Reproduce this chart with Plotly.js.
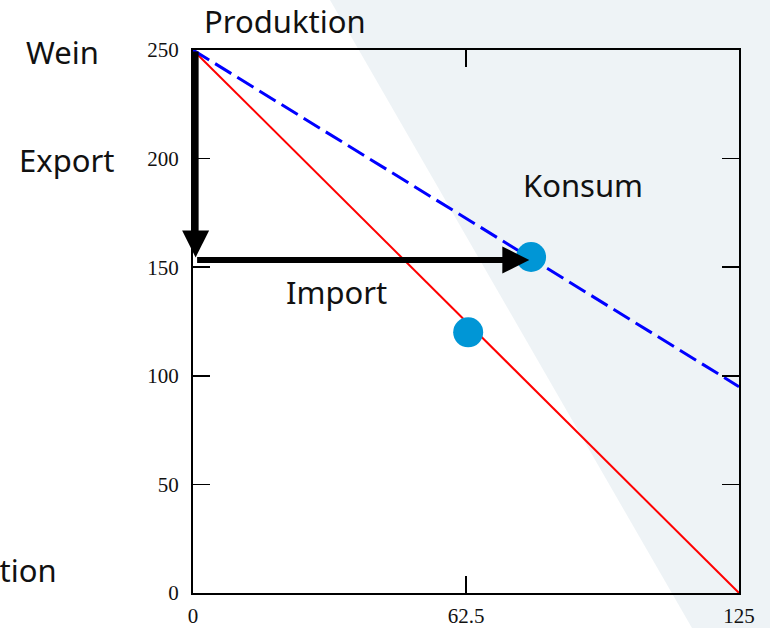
<!DOCTYPE html>
<html>
<head>
<meta charset="utf-8">
<script src="https://cdn.plot.ly/plotly-3.0.1.min.js"></script>
<style>html,body{margin:0;padding:0;background:#fff;}#chart{width:770px;height:628px;}</style>
</head>
<body>
<div id="chart"></div>
<script>
// ---- data ----
const xTicks = [0, 62.5, 125];
const xTickText = ['0', '62.5', '125'];
const yTicks = [0, 50, 100, 150, 200, 250];
const prodX = [0, 125];          // production possibility line
const prodY = [250, 0];
const consX = [0, 125];          // consumption possibility line (with trade)
const consY = [250, 95];
const prodPointX = [63];
const prodPointY = [120];
const consPointX = [77.4];
const consPointY = [154.7];
const exportFrom = [0.6, 250];
const exportTo = [0.6, 154.5];
const importFrom = [0.6, 153.3];
const importTo = [77, 153.3];
const labels = ['Produktion', 'Wein', 'Export', 'Konsum', 'Import', 'Produktion'];

// ---- layout helpers (pixel -> paper) ----
const L = 193, R = 739, T = 50, B = 593;
const px = v => (v - L) / (R - L);
const py = v => (B - v) / (B - T);

const traces = [
  {x: prodX, y: prodY, mode: 'lines', line: {color: '#ff0000', width: 2}, hoverinfo: 'skip'},
  {x: consX, y: consY, mode: 'lines', line: {color: '#0000ff', width: 3, dash: '19px,7px'}, hoverinfo: 'skip'},
  {x: prodPointX, y: prodPointY, mode: 'markers', marker: {size: 30, color: '#0096d6'}},
  {x: consPointX, y: consPointY, mode: 'markers', marker: {size: 30, color: '#0096d6'}}
];

const txtFont = {family: 'Noto Sans, Open Sans, sans-serif', size: 31, color: '#111'};
function label(text, xpx, ypx, anchor) {
  return {text: text, xref: 'paper', yref: 'paper', x: px(xpx), y: py(ypx),
    xanchor: anchor || 'center', yanchor: 'middle', showarrow: false, font: txtFont};
}

const tickFont = {family: 'Liberation Serif, serif', size: 21, color: '#111'};

const layout = {
  width: 770, height: 628,
  margin: {l: L, r: 770 - R, t: T, b: 628 - B, pad: 0},
  paper_bgcolor: '#ffffff',
  plot_bgcolor: 'rgba(0,0,0,0)',
  showlegend: false,
  xaxis: {
    range: [0, 125], tickvals: xTicks, ticktext: xTickText,
    ticks: 'inside', ticklen: 17, tickwidth: 1.5, tickcolor: '#000',
    showline: true, linecolor: '#000', linewidth: 2, mirror: 'allticks',
    showgrid: false, zeroline: false,
    tickfont: tickFont,
    ticklabelstandoff: 3
  },
  yaxis: {
    range: [0, 250], tickvals: yTicks,
    ticks: 'inside', ticklen: 17, tickwidth: 1.5, tickcolor: '#000',
    showline: true, linecolor: '#000', linewidth: 2, mirror: 'allticks',
    showgrid: false, zeroline: false,
    tickfont: tickFont,
    ticklabelstandoff: 8
  },
  shapes: [{
    type: 'path', xref: 'paper', yref: 'paper', layer: 'below',
    path: 'M ' + px(330) + ' ' + py(0) + ' L ' + px(692) + ' ' + py(628) +
          ' L ' + px(775) + ' ' + py(628) + ' L ' + px(775) + ' ' + py(0) + ' Z',
    fillcolor: '#eef3f6', line: {width: 0}
  }],
  annotations: [
    label(labels[0], 285, 21),
    label(labels[1], 62, 52),
    label(labels[2], 66, 160),
    label(labels[3], 583, 185),
    label(labels[4], 336, 292),
    label(labels[5], 59, 570, 'right'),
    {x: exportTo[0], y: exportTo[1], ax: exportFrom[0], ay: exportFrom[1],
     xref: 'x', yref: 'y', axref: 'x', ayref: 'y', showarrow: true,
     arrowhead: 2, arrowsize: 0.9, arrowwidth: 6, arrowcolor: '#000', text: ''},
    {x: importTo[0], y: importTo[1], ax: importFrom[0], ay: importFrom[1],
     xref: 'x', yref: 'y', axref: 'x', ayref: 'y', showarrow: true,
     arrowhead: 2, arrowsize: 0.9, arrowwidth: 6, arrowcolor: '#000', text: ''}
  ]
};

Plotly.newPlot('chart', traces, layout, {displayModeBar: false, staticPlot: true});
</script>
</body>
</html>
